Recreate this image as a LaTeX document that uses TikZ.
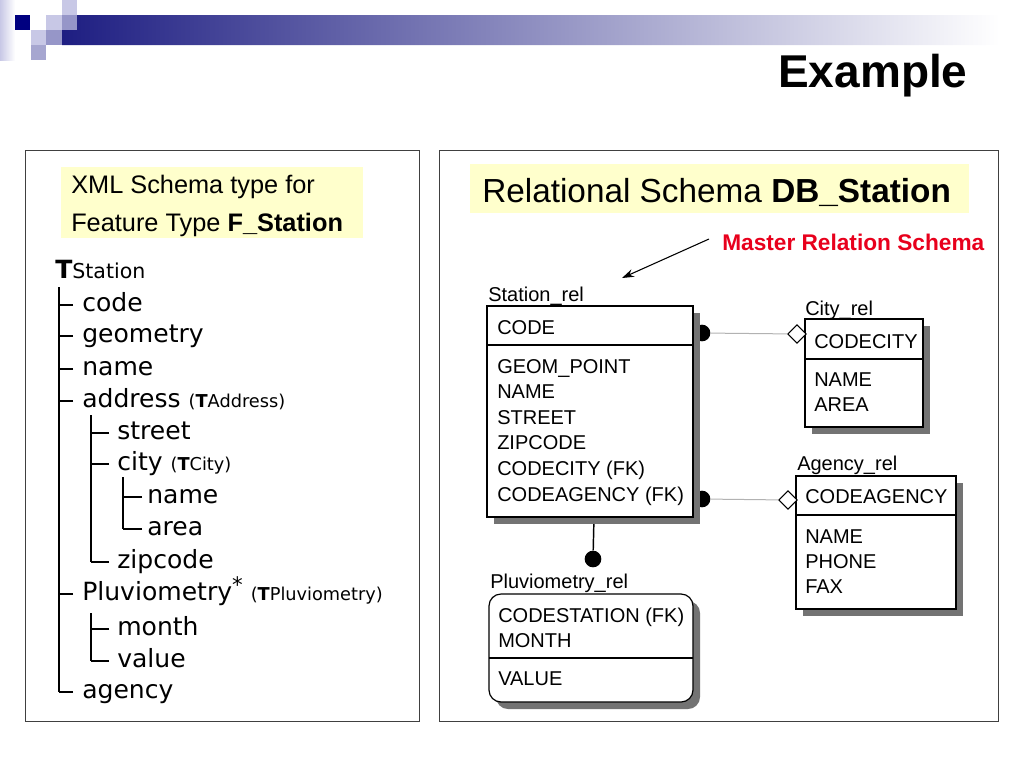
\documentclass[tikz,border=0pt]{standalone}
\usepackage{fontspec}
\setmainfont{Liberation Sans}
\newfontfamily\treefont{DejaVu Sans}
\usetikzlibrary{fit,shadows,shapes.geometric,arrows.meta}

\definecolor{noteyellow}{HTML}{FFFFCC}
\definecolor{barblue}{HTML}{1E1E82}
\definecolor{navyblock}{HTML}{000080}
\definecolor{lavlight}{HTML}{C8C8E6}
\definecolor{lavmid}{HTML}{9696C8}
\definecolor{masterred}{HTML}{E8001C}

\newcommand{\smalltype}[1]{{\fontsize{13.3}{16}\selectfont(\textbf{T}#1)}}

\tikzset{
    panel/.style={draw=black!75, line width=0.75pt},
    note/.style={fill=noteyellow, inner sep=0},
    leaf/.style={anchor=base west, inner sep=0, font=\treefont\fontsize{18.8}{22}\selectfont},
    treeline/.style={line width=1.3pt},
    tbl/.style={draw, line width=0.9pt, fill=white, inner sep=0,
        drop shadow={shadow xshift=5.25pt, shadow yshift=-5.25pt, fill=black!55, fill opacity=1}},
    attr/.style={anchor=base west, inner sep=0, font=\fontsize{15}{18}\selectfont},
    dot/.style={circle, fill=black, inner sep=0, minimum size=12.5pt},
    key/.style={diamond, draw, fill=white, inner sep=0, minimum width=14pt,
        minimum height=14pt, line width=0.75pt},
    rel/.style={draw=black!30, line width=0.75pt},
    fk/.style={draw, line width=1.1pt},
    pointer/.style={draw, line width=0.8pt, -{Stealth[length=9pt,width=6pt]}}
}

\begin{document}
\begin{tikzpicture}[x=0.75pt, y=-0.75pt]
    \useasboundingbox (0,0) rectangle (1024,768);

    % header band
    \shade[left color=lavlight, right color=white] (0,0) rectangle (15,60);
    \fill[navyblock] (15,15) rectangle (30,30);
    \fill[lavlight] (62,0) rectangle (77,15);
    \fill[lavlight] (46,15) rectangle (62,30);
    \fill[lavmid] (62,15) rectangle (77,30);
    \fill[lavlight] (31,30) rectangle (46,45);
    \fill[lavmid] (46,30) rectangle (62,45);
    \fill[lavmid!85] (31,45) rectangle (46,60);
    \shade[left color=barblue, right color=white]
        (77,15) -- (1000,15) -- (1000,45) -- (62,45) -- (62,30) -- (77,30) -- cycle;
    \node[anchor=base west, inner sep=0, font=\bfseries\fontsize{34.5}{40}\selectfont]
        (title) at (778,87) {Example};

    % panels
    \draw[panel] (25,150) rectangle (419,721);
    \draw[panel] (439,150) rectangle (998,721);

    \node[note, fit={(61,167) (363,238)}] (xmlnote) {};
    \node[attr, font=\fontsize{19}{22}\selectfont] (xml1) at (71,193) {XML Schema type for};
    \node[attr, font=\fontsize{19}{22}\selectfont] (xml2) at (71,231) {Feature Type \textbf{F\_Station}};

    \node[note, fit={(470,164) (969,213)}] (relnote) {};
    \node[attr, font=\fontsize{25}{30}\selectfont] (reltitle) at (482,202)
        {Relational Schema \textbf{DB\_Station}};

    \node[attr, font=\bfseries\fontsize{17}{20}\selectfont, text=masterred]
        (master) at (722,250) {Master Relation Schema};
    \coordinate (mtail) at (709,239);
    \coordinate (mhead) at (622,278);
    \path[pointer] (mtail) -- (mhead);

    % XML tree
    \begin{scope}[every node/.style=leaf]
        \node (root) at (55,278) {\textbf{T}{\fontsize{15.4}{18}\selectfont Station}};
        \node (code) at (82,311) {code};
        \node (geom) at (82,342) {geometry};
        \node (nm) at (82,375) {name};
        \node (addr) at (82,407) {address \smalltype{Address}};
        \node (street) at (117,439) {street};
        \node (city) at (117,470) {city \smalltype{City}};
        \node (cname) at (147,503) {name};
        \node (carea) at (147,535) {area};
        \node (zip) at (117,568) {zipcode};
        \node (pluv) at (82,600) {Pluviometry\raisebox{6pt}{\fontsize{16}{18}\selectfont *} \smalltype{Pluviometry}};
        \node (month) at (117,635) {month};
        \node (value) at (117,667) {value};
        \node (agency) at (82,698) {agency};
    \end{scope}

    \begin{scope}[treeline]
        \draw (59,287) -- (59,692);
        \draw (91,415) -- (91,562);
        \draw (123,477) -- (123,529);
        \draw (91,613) -- (91,661);

        \draw (code.base west) ++(-9,-6) -- ++(-14,0);
        \draw (geom.base west) ++(-9,-6) -- ++(-14,0);
        \draw (nm.base west) ++(-9,-6) -- ++(-14,0);
        \draw (addr.base west) ++(-9,-6) -- ++(-14,0);
        \draw (pluv.base west) ++(-9,-6) -- ++(-14,0);
        \draw (agency.base west) ++(-9,-6) -- ++(-14,0);

        \draw (street.base west) ++(-8,-6) -- ++(-18,0);
        \draw (city.base west) ++(-8,-6) -- ++(-18,0);
        \draw (zip.base west) ++(-8,-6) -- ++(-18,0);
        \draw (month.base west) ++(-8,-6) -- ++(-18,0);
        \draw (value.base west) ++(-8,-6) -- ++(-18,0);

        \draw (cname.base west) ++(-5,-6) -- ++(-19,0);
        \draw (carea.base west) ++(-5,-6) -- ++(-19,0);
    \end{scope}

    % relational schema
    \node[dot] (d1) at (702,333) {};
    \node[dot] (d2) at (702,499) {};
    \node[dot] (d3) at (593,559) {};
    \coordinate (s3) at (594,517);
    \path[fk] (s3) -- (d3);

    \node[tbl, fit={(487,306) (693,517)}] (station) {};
    \node[tbl, fit={(805,319) (923,427)}] (cityrel) {};
    \node[tbl, fit={(796,476) (956,609)}] (agencyrel) {};
    \node[tbl, rounded corners=9pt, fit={(489,594) (693,702)}] (pluvrel) {};

    \draw[line width=0.9pt] (487,345) -- (693,345);
    \draw[line width=0.9pt] (805,359) -- (923,359);
    \draw[line width=0.9pt] (796,515) -- (956,515);
    \draw[line width=0.9pt] (489,658) -- (693,658);

    \node[key] (k1) at (797,334) {};
    \node[key] (k2) at (788,500) {};
    \path[rel] (d1) edge (k1);
    \path[rel] (d2) edge (k2);

    \begin{scope}[every node/.style=attr]
        \node (stlabel) at (488,301) {Station\_rel};
        \node (st0) at (497,334) {CODE};
        \node (st1) at (497,373) {GEOM\_POINT};
        \node (st2) at (497,398.6) {NAME};
        \node (st3) at (497,424.2) {STREET};
        \node (st4) at (497,449.8) {ZIPCODE};
        \node (st5) at (497,475.4) {CODECITY (FK)};
        \node (st6) at (497,501) {CODEAGENCY (FK)};

        \node (cilabel) at (805,315) {City\_rel};
        \node (ci0) at (814,348) {CODECITY};
        \node (ci1) at (814,386) {NAME};
        \node (ci2) at (814,411) {AREA};

        \node (aglabel) at (797,470) {Agency\_rel};
        \node (ag0) at (805,503) {CODEAGENCY};
        \node (ag1) at (805,543) {NAME};
        \node (ag2) at (805,568) {PHONE};
        \node (ag3) at (805,593) {FAX};

        \node (pllabel) at (490,588) {Pluviometry\_rel};
        \node (pl0) at (498,622) {CODESTATION (FK)};
        \node (pl1) at (498,647) {MONTH};
        \node (pl2) at (498,685) {VALUE};
    \end{scope}
\end{tikzpicture}
\end{document}
